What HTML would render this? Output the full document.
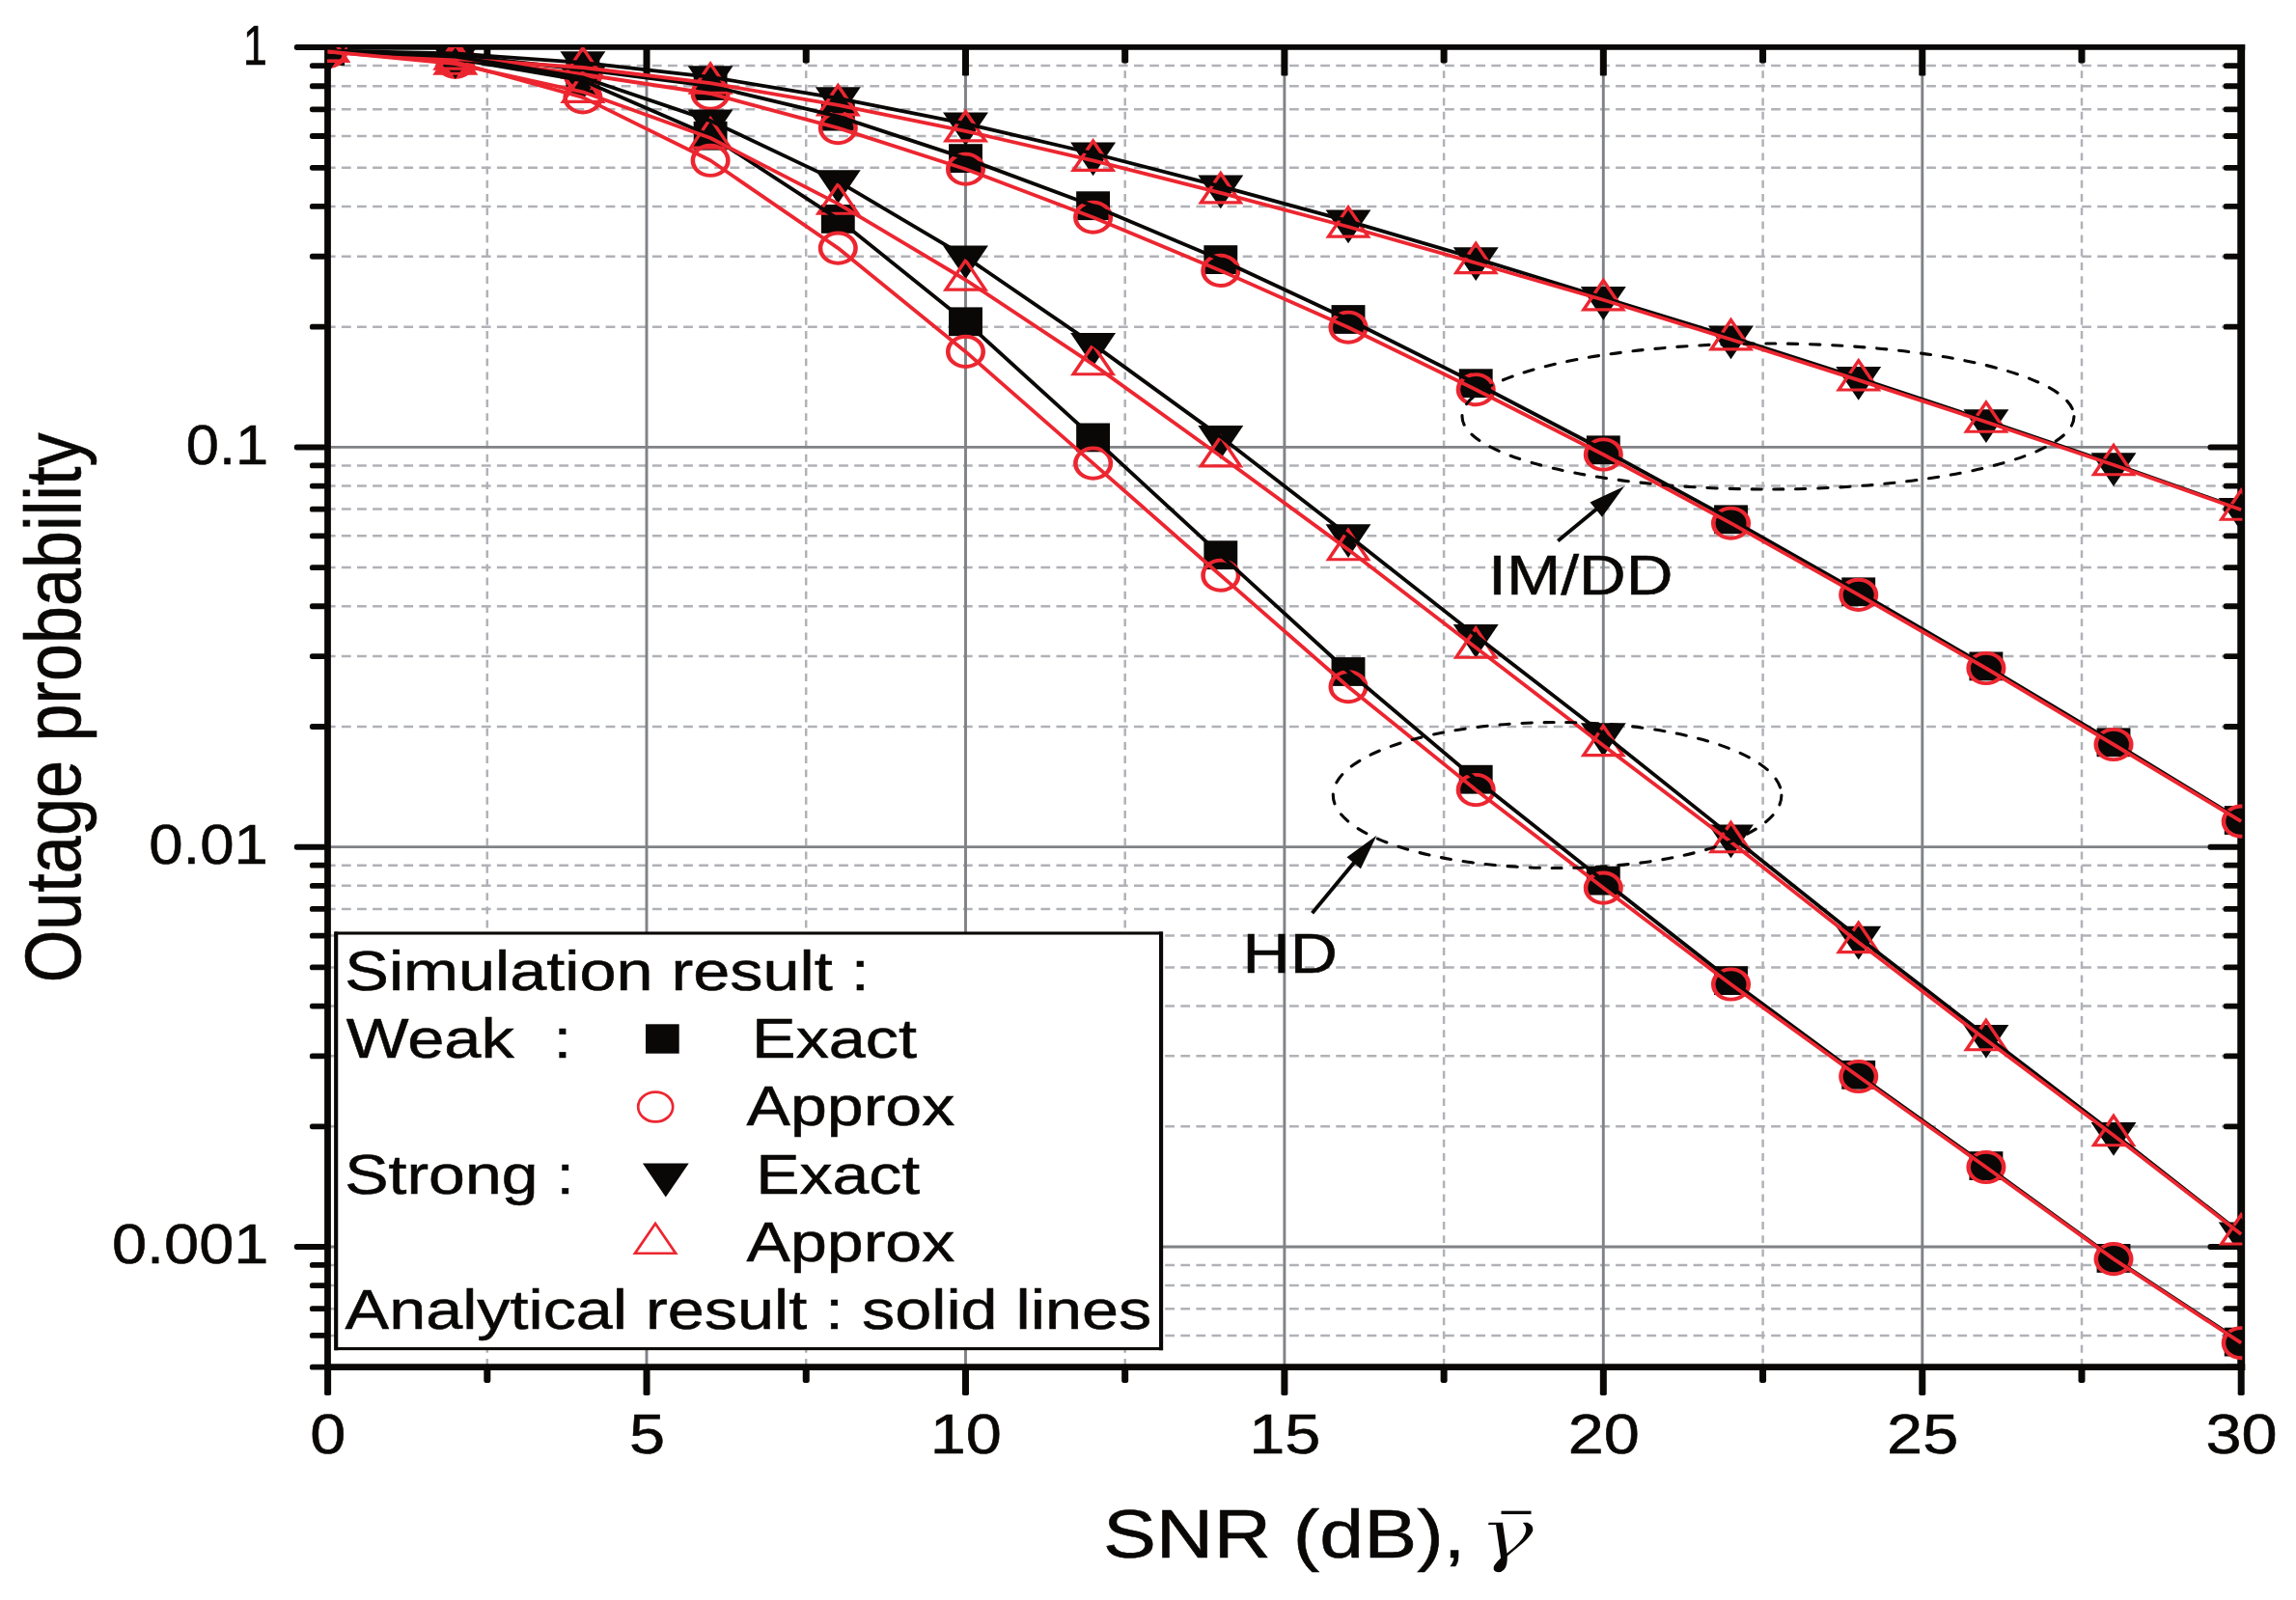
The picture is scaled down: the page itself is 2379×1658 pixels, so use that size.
<!DOCTYPE html>
<html><head><meta charset="utf-8"><title>Outage probability</title>
<style>html,body{margin:0;padding:0;background:#fff}svg{display:block}</style></head>
<body>
<svg width="2379" height="1658" viewBox="0 0 2379 1658" style="display:block">
<rect width="2379" height="1658" fill="#fff"/>
<defs>
<clipPath id="pc"><rect x="339.0" y="49.05" width="1984.4" height="1368.6"/></clipPath>
<clipPath id="gc"><rect x="339.6" y="49.1" width="1982.6" height="1367.6"/></clipPath>
<g id="sq" transform="scale(1.17,1)"><rect x="-14.9" y="-14.9" width="29.8" height="29.8" fill="#0a0806"/></g>
<g id="dn" transform="scale(1.17,1)"><polygon points="-20.05,-11.58 20.05,-11.58 0,23.15" fill="#0a0806"/></g>
<g id="ci" transform="scale(1.17,1)"><circle r="15.6" fill="none" stroke="#ec2630" stroke-width="3.9"/></g>
<g id="up" transform="scale(1.17,1)"><polygon points="0,-20.17 17.46,10.08 -17.46,10.08" fill="none" stroke="#ec2630" stroke-width="3.1" stroke-linejoin="miter"/></g>
</defs>
<g clip-path="url(#gc)" fill="none"><path d="M337.8,338.7H2322.2M337.8,265.7H2322.2M337.8,214.0H2322.2M337.8,173.8H2322.2M337.8,141.0H2322.2M337.8,113.3H2322.2M337.8,89.2H2322.2M337.8,68.1H2322.2M337.8,753.0H2322.2M337.8,680.0H2322.2M337.8,628.3H2322.2M337.8,588.1H2322.2M337.8,555.3H2322.2M337.8,527.6H2322.2M337.8,503.5H2322.2M337.8,482.4H2322.2M337.8,1167.3H2322.2M337.8,1094.3H2322.2M337.8,1042.6H2322.2M337.8,1002.4H2322.2M337.8,969.6H2322.2M337.8,941.9H2322.2M337.8,917.8H2322.2M337.8,896.7H2322.2M337.8,1383.9H2322.2M337.8,1356.2H2322.2M337.8,1332.1H2322.2M337.8,1311.0H2322.2" stroke="#b1b2b7" stroke-width="2.5" stroke-dasharray="9.8 6.3"/><path d="M504.8,44.8V1416.7M835.2,44.8V1416.7M1165.7,44.8V1416.7M1496.1,44.8V1416.7M1826.6,44.8V1416.7M2157.0,44.8V1416.7" stroke="#b1b2b7" stroke-width="2.5" stroke-dasharray="7.9 6.3"/><path d="M339.6,463.4H2322.2M339.6,877.7H2322.2M339.6,1292.0H2322.2" stroke="#808286" stroke-width="2.8"/><path d="M670.0,49.1V1416.7M1000.5,49.1V1416.7M1330.9,49.1V1416.7M1661.3,49.1V1416.7M1991.8,49.1V1416.7" stroke="#808286" stroke-width="2.9"/></g>
<g fill="#0a0806" stroke="none"><rect x="304.8" y="45.90" width="36.8" height="6.0" rx="2.7" ry="2.7"/><rect x="304.8" y="460.40" width="36.8" height="6.0" rx="2.7" ry="2.7"/><rect x="2287.5" y="460.40" width="36.7" height="6.0" rx="2.7" ry="2.7"/><rect x="304.8" y="874.70" width="36.8" height="6.0" rx="2.7" ry="2.7"/><rect x="2287.5" y="874.70" width="36.7" height="6.0" rx="2.7" ry="2.7"/><rect x="304.8" y="1289.00" width="36.8" height="6.0" rx="2.7" ry="2.7"/><rect x="2287.5" y="1289.00" width="36.7" height="6.0" rx="2.7" ry="2.7"/><rect x="320.9" y="335.78" width="20.7" height="5.8" rx="2.6" ry="2.6"/><rect x="2303.6" y="335.78" width="20.6" height="5.8" rx="2.6" ry="2.6"/><rect x="320.9" y="262.83" width="20.7" height="5.8" rx="2.6" ry="2.6"/><rect x="2303.6" y="262.83" width="20.6" height="5.8" rx="2.6" ry="2.6"/><rect x="320.9" y="211.07" width="20.7" height="5.8" rx="2.6" ry="2.6"/><rect x="2303.6" y="211.07" width="20.6" height="5.8" rx="2.6" ry="2.6"/><rect x="320.9" y="170.92" width="20.7" height="5.8" rx="2.6" ry="2.6"/><rect x="2303.6" y="170.92" width="20.6" height="5.8" rx="2.6" ry="2.6"/><rect x="320.9" y="138.11" width="20.7" height="5.8" rx="2.6" ry="2.6"/><rect x="2303.6" y="138.11" width="20.6" height="5.8" rx="2.6" ry="2.6"/><rect x="320.9" y="110.38" width="20.7" height="5.8" rx="2.6" ry="2.6"/><rect x="2303.6" y="110.38" width="20.6" height="5.8" rx="2.6" ry="2.6"/><rect x="320.9" y="86.35" width="20.7" height="5.8" rx="2.6" ry="2.6"/><rect x="2303.6" y="86.35" width="20.6" height="5.8" rx="2.6" ry="2.6"/><rect x="320.9" y="65.16" width="20.7" height="5.8" rx="2.6" ry="2.6"/><rect x="2303.6" y="65.16" width="20.6" height="5.8" rx="2.6" ry="2.6"/><rect x="320.9" y="750.08" width="20.7" height="5.8" rx="2.6" ry="2.6"/><rect x="2303.6" y="750.08" width="20.6" height="5.8" rx="2.6" ry="2.6"/><rect x="320.9" y="677.13" width="20.7" height="5.8" rx="2.6" ry="2.6"/><rect x="2303.6" y="677.13" width="20.6" height="5.8" rx="2.6" ry="2.6"/><rect x="320.9" y="625.37" width="20.7" height="5.8" rx="2.6" ry="2.6"/><rect x="2303.6" y="625.37" width="20.6" height="5.8" rx="2.6" ry="2.6"/><rect x="320.9" y="585.22" width="20.7" height="5.8" rx="2.6" ry="2.6"/><rect x="2303.6" y="585.22" width="20.6" height="5.8" rx="2.6" ry="2.6"/><rect x="320.9" y="552.41" width="20.7" height="5.8" rx="2.6" ry="2.6"/><rect x="2303.6" y="552.41" width="20.6" height="5.8" rx="2.6" ry="2.6"/><rect x="320.9" y="524.68" width="20.7" height="5.8" rx="2.6" ry="2.6"/><rect x="2303.6" y="524.68" width="20.6" height="5.8" rx="2.6" ry="2.6"/><rect x="320.9" y="500.65" width="20.7" height="5.8" rx="2.6" ry="2.6"/><rect x="2303.6" y="500.65" width="20.6" height="5.8" rx="2.6" ry="2.6"/><rect x="320.9" y="479.46" width="20.7" height="5.8" rx="2.6" ry="2.6"/><rect x="2303.6" y="479.46" width="20.6" height="5.8" rx="2.6" ry="2.6"/><rect x="320.9" y="1164.38" width="20.7" height="5.8" rx="2.6" ry="2.6"/><rect x="2303.6" y="1164.38" width="20.6" height="5.8" rx="2.6" ry="2.6"/><rect x="320.9" y="1091.43" width="20.7" height="5.8" rx="2.6" ry="2.6"/><rect x="2303.6" y="1091.43" width="20.6" height="5.8" rx="2.6" ry="2.6"/><rect x="320.9" y="1039.67" width="20.7" height="5.8" rx="2.6" ry="2.6"/><rect x="2303.6" y="1039.67" width="20.6" height="5.8" rx="2.6" ry="2.6"/><rect x="320.9" y="999.52" width="20.7" height="5.8" rx="2.6" ry="2.6"/><rect x="2303.6" y="999.52" width="20.6" height="5.8" rx="2.6" ry="2.6"/><rect x="320.9" y="966.71" width="20.7" height="5.8" rx="2.6" ry="2.6"/><rect x="2303.6" y="966.71" width="20.6" height="5.8" rx="2.6" ry="2.6"/><rect x="320.9" y="938.98" width="20.7" height="5.8" rx="2.6" ry="2.6"/><rect x="2303.6" y="938.98" width="20.6" height="5.8" rx="2.6" ry="2.6"/><rect x="320.9" y="914.95" width="20.7" height="5.8" rx="2.6" ry="2.6"/><rect x="2303.6" y="914.95" width="20.6" height="5.8" rx="2.6" ry="2.6"/><rect x="320.9" y="893.76" width="20.7" height="5.8" rx="2.6" ry="2.6"/><rect x="2303.6" y="893.76" width="20.6" height="5.8" rx="2.6" ry="2.6"/><rect x="320.9" y="1381.01" width="20.7" height="5.8" rx="2.6" ry="2.6"/><rect x="2303.6" y="1381.01" width="20.6" height="5.8" rx="2.6" ry="2.6"/><rect x="320.9" y="1353.28" width="20.7" height="5.8" rx="2.6" ry="2.6"/><rect x="2303.6" y="1353.28" width="20.6" height="5.8" rx="2.6" ry="2.6"/><rect x="320.9" y="1329.25" width="20.7" height="5.8" rx="2.6" ry="2.6"/><rect x="2303.6" y="1329.25" width="20.6" height="5.8" rx="2.6" ry="2.6"/><rect x="320.9" y="1308.06" width="20.7" height="5.8" rx="2.6" ry="2.6"/><rect x="2303.6" y="1308.06" width="20.6" height="5.8" rx="2.6" ry="2.6"/><rect x="320.9" y="1413.80" width="20.7" height="5.8" rx="2.6" ry="2.6"/><rect x="2303.6" y="1413.80" width="20.6" height="5.8" rx="2.6" ry="2.6"/><rect x="336.10" y="1414.7" width="7.0" height="31.4" rx="1.8" ry="1.8"/><rect x="666.53" y="1414.7" width="7.0" height="31.4" rx="1.8" ry="1.8"/><rect x="666.53" y="47.1" width="7.0" height="31.3" rx="0.9" ry="0.9"/><rect x="996.97" y="1414.7" width="7.0" height="31.4" rx="1.8" ry="1.8"/><rect x="996.97" y="47.1" width="7.0" height="31.3" rx="0.9" ry="0.9"/><rect x="1327.40" y="1414.7" width="7.0" height="31.4" rx="1.8" ry="1.8"/><rect x="1327.40" y="47.1" width="7.0" height="31.3" rx="0.9" ry="0.9"/><rect x="1657.83" y="1414.7" width="7.0" height="31.4" rx="1.8" ry="1.8"/><rect x="1657.83" y="47.1" width="7.0" height="31.3" rx="0.9" ry="0.9"/><rect x="1988.27" y="1414.7" width="7.0" height="31.4" rx="1.8" ry="1.8"/><rect x="1988.27" y="47.1" width="7.0" height="31.3" rx="0.9" ry="0.9"/><rect x="2318.70" y="1414.7" width="7.0" height="31.4" rx="1.8" ry="1.8"/><rect x="501.32" y="1414.7" width="7.0" height="18.2" rx="1.8" ry="1.8"/><rect x="501.32" y="47.1" width="7.0" height="18.5" rx="1.8" ry="1.8"/><rect x="831.75" y="1414.7" width="7.0" height="18.2" rx="1.8" ry="1.8"/><rect x="831.75" y="47.1" width="7.0" height="18.5" rx="1.8" ry="1.8"/><rect x="1162.18" y="1414.7" width="7.0" height="18.2" rx="1.8" ry="1.8"/><rect x="1162.18" y="47.1" width="7.0" height="18.5" rx="1.8" ry="1.8"/><rect x="1492.62" y="1414.7" width="7.0" height="18.2" rx="1.8" ry="1.8"/><rect x="1492.62" y="47.1" width="7.0" height="18.5" rx="1.8" ry="1.8"/><rect x="1823.05" y="1414.7" width="7.0" height="18.2" rx="1.8" ry="1.8"/><rect x="1823.05" y="47.1" width="7.0" height="18.5" rx="1.8" ry="1.8"/><rect x="2153.48" y="1414.7" width="7.0" height="18.2" rx="1.8" ry="1.8"/><rect x="2153.48" y="47.1" width="7.0" height="18.5" rx="1.8" ry="1.8"/></g><g stroke="#0a0806" fill="none" stroke-linecap="butt"><path d="M336.4,48.9H2326.2" stroke-width="5.9"/><path d="M336.4,1416.6H2326.2" stroke-width="6.9"/><path d="M339.5,46.0V1420.1" stroke-width="6.8"/><path d="M2322.2,46.0V1420.1" stroke-width="7.9"/></g>
<g clip-path="url(#pc)">
<use href="#sq" x="339.6" y="52.7"/><use href="#sq" x="471.8" y="57.0"/><use href="#sq" x="603.9" y="72.0"/><use href="#sq" x="736.1" y="89.0"/><use href="#sq" x="868.3" y="120.6"/><use href="#sq" x="1000.5" y="164.1"/><use href="#sq" x="1132.6" y="213.2"/><use href="#sq" x="1264.8" y="269.1"/><use href="#sq" x="1397.0" y="331.0"/><use href="#sq" x="1529.2" y="397.2"/><use href="#sq" x="1661.3" y="466.3"/><use href="#sq" x="1793.5" y="538.3"/><use href="#sq" x="1925.7" y="613.3"/><use href="#sq" x="2057.9" y="690.4"/><use href="#sq" x="2190.0" y="769.3"/><use href="#sq" x="2322.2" y="850.0"/>
<use href="#sq" x="339.6" y="52.9"/><use href="#sq" x="471.8" y="61.0"/><use href="#sq" x="603.9" y="83.5"/><use href="#sq" x="736.1" y="140.7"/><use href="#sq" x="868.3" y="226.9"/><use href="#sq" x="1000.5" y="333.3"/><use href="#sq" x="1132.6" y="453.4"/><use href="#sq" x="1264.8" y="575.2"/><use href="#sq" x="1397.0" y="696.0"/><use href="#sq" x="1529.2" y="807.7"/><use href="#sq" x="1661.3" y="912.6"/><use href="#sq" x="1793.5" y="1016.1"/><use href="#sq" x="1925.7" y="1113.8"/><use href="#sq" x="2057.9" y="1208.1"/><use href="#sq" x="2190.0" y="1303.9"/><use href="#sq" x="2322.2" y="1390.6"/>
<use href="#ci" x="339.6" y="53.2"/><use href="#ci" x="471.8" y="60.0"/><use href="#ci" x="603.9" y="77.0"/><use href="#ci" x="736.1" y="97.0"/><use href="#ci" x="868.3" y="132.6"/><use href="#ci" x="1000.5" y="175.2"/><use href="#ci" x="1132.6" y="225.2"/><use href="#ci" x="1264.8" y="280.4"/><use href="#ci" x="1397.0" y="339.2"/><use href="#ci" x="1529.2" y="403.7"/><use href="#ci" x="1661.3" y="471.0"/><use href="#ci" x="1793.5" y="542.2"/><use href="#ci" x="1925.7" y="616.4"/><use href="#ci" x="2057.9" y="692.5"/><use href="#ci" x="2190.0" y="771.5"/><use href="#ci" x="2322.2" y="851.1"/>
<use href="#ci" x="339.6" y="53.5"/><use href="#ci" x="471.8" y="64.4"/><use href="#ci" x="603.9" y="100.9"/><use href="#ci" x="736.1" y="166.3"/><use href="#ci" x="868.3" y="257.1"/><use href="#ci" x="1000.5" y="364.4"/><use href="#ci" x="1132.6" y="480.1"/><use href="#ci" x="1264.8" y="596.2"/><use href="#ci" x="1397.0" y="711.7"/><use href="#ci" x="1529.2" y="818.5"/><use href="#ci" x="1661.3" y="920.1"/><use href="#ci" x="1793.5" y="1020.0"/><use href="#ci" x="1925.7" y="1115.5"/><use href="#ci" x="2057.9" y="1209.5"/><use href="#ci" x="2190.0" y="1304.6"/><use href="#ci" x="2322.2" y="1391.7"/>
<use href="#dn" x="339.6" y="52.6"/><use href="#dn" x="471.8" y="55.5"/><use href="#dn" x="603.9" y="64.8"/><use href="#dn" x="736.1" y="79.8"/><use href="#dn" x="868.3" y="101.8"/><use href="#dn" x="1000.5" y="128.1"/><use href="#dn" x="1132.6" y="159.0"/><use href="#dn" x="1264.8" y="193.1"/><use href="#dn" x="1397.0" y="229.1"/><use href="#dn" x="1529.2" y="267.9"/><use href="#dn" x="1661.3" y="308.5"/><use href="#dn" x="1793.5" y="349.2"/><use href="#dn" x="1925.7" y="391.7"/><use href="#dn" x="2057.9" y="435.8"/><use href="#dn" x="2190.0" y="480.9"/><use href="#dn" x="2322.2" y="527.5"/>
<use href="#dn" x="339.6" y="52.8"/><use href="#dn" x="471.8" y="58.6"/><use href="#dn" x="603.9" y="80.3"/><use href="#dn" x="736.1" y="125.1"/><use href="#dn" x="868.3" y="187.9"/><use href="#dn" x="1000.5" y="266.1"/><use href="#dn" x="1132.6" y="356.6"/><use href="#dn" x="1264.8" y="452.6"/><use href="#dn" x="1397.0" y="554.8"/><use href="#dn" x="1529.2" y="658.7"/><use href="#dn" x="1661.3" y="760.8"/><use href="#dn" x="1793.5" y="866.2"/><use href="#dn" x="1925.7" y="971.4"/><use href="#dn" x="2057.9" y="1073.5"/><use href="#dn" x="2190.0" y="1174.5"/><use href="#dn" x="2322.2" y="1278.1"/>
<use href="#up" x="339.6" y="53.0"/><use href="#up" x="471.8" y="61.0"/><use href="#up" x="603.9" y="70.0"/><use href="#up" x="736.1" y="86.2"/><use href="#up" x="868.3" y="108.8"/><use href="#up" x="1000.5" y="135.8"/><use href="#up" x="1132.6" y="166.3"/><use href="#up" x="1264.8" y="199.8"/><use href="#up" x="1397.0" y="235.0"/><use href="#up" x="1529.2" y="272.5"/><use href="#up" x="1661.3" y="310.8"/><use href="#up" x="1793.5" y="351.8"/><use href="#up" x="1925.7" y="393.9"/><use href="#up" x="2057.9" y="437.2"/><use href="#up" x="2190.0" y="481.7"/><use href="#up" x="2322.2" y="528.2"/>
<use href="#up" x="339.6" y="53.3"/><use href="#up" x="471.8" y="66.2"/><use href="#up" x="603.9" y="95.3"/><use href="#up" x="736.1" y="143.0"/><use href="#up" x="868.3" y="211.1"/><use href="#up" x="1000.5" y="290.0"/><use href="#up" x="1132.6" y="377.6"/><use href="#up" x="1264.8" y="472.8"/><use href="#up" x="1397.0" y="569.6"/><use href="#up" x="1529.2" y="671.1"/><use href="#up" x="1661.3" y="772.5"/><use href="#up" x="1793.5" y="872.6"/><use href="#up" x="1925.7" y="976.5"/><use href="#up" x="2057.9" y="1077.6"/><use href="#up" x="2190.0" y="1176.6"/><use href="#up" x="2322.2" y="1278.9"/>
<polyline points="339.6,52.7 471.8,57.0 603.9,72.0 736.1,89.0 868.3,120.6 1000.5,164.1 1132.6,213.2 1264.8,269.1 1397.0,331.0 1529.2,397.2 1661.3,466.3 1793.5,538.3 1925.7,613.3 2057.9,690.4 2190.0,769.3 2322.2,850.0" fill="none" stroke="#0a0806" stroke-width="3.8" stroke-linejoin="round"/>
<polyline points="339.6,53.2 471.8,60.0 603.9,77.0 736.1,97.0 868.3,132.6 1000.5,175.2 1132.6,225.2 1264.8,280.4 1397.0,339.2 1529.2,403.7 1661.3,471.0 1793.5,542.2 1925.7,616.4 2057.9,692.5 2190.0,771.5 2322.2,851.1" fill="none" stroke="#ec2630" stroke-width="3.8" stroke-linejoin="round"/>
<polyline points="339.6,52.9 471.8,61.0 603.9,83.5 736.1,140.7 868.3,226.9 1000.5,333.3 1132.6,453.4 1264.8,575.2 1397.0,696.0 1529.2,807.7 1661.3,912.6 1793.5,1016.1 1925.7,1113.8 2057.9,1208.1 2190.0,1303.9 2322.2,1390.6" fill="none" stroke="#0a0806" stroke-width="3.8" stroke-linejoin="round"/>
<polyline points="339.6,53.5 471.8,64.4 603.9,100.9 736.1,166.3 868.3,257.1 1000.5,364.4 1132.6,480.1 1264.8,596.2 1397.0,711.7 1529.2,818.5 1661.3,920.1 1793.5,1020.0 1925.7,1115.5 2057.9,1209.5 2190.0,1304.6 2322.2,1391.7" fill="none" stroke="#ec2630" stroke-width="3.8" stroke-linejoin="round"/>
<polyline points="339.6,52.6 471.8,55.5 603.9,64.8 736.1,79.8 868.3,101.8 1000.5,128.1 1132.6,159.0 1264.8,193.1 1397.0,229.1 1529.2,267.9 1661.3,308.5 1793.5,349.2 1925.7,391.7 2057.9,435.8 2190.0,480.9 2322.2,527.5" fill="none" stroke="#0a0806" stroke-width="3.8" stroke-linejoin="round"/>
<polyline points="339.6,53.0 471.8,61.0 603.9,70.0 736.1,86.2 868.3,108.8 1000.5,135.8 1132.6,166.3 1264.8,199.8 1397.0,235.0 1529.2,272.5 1661.3,310.8 1793.5,351.8 1925.7,393.9 2057.9,437.2 2190.0,481.7 2322.2,528.2" fill="none" stroke="#ec2630" stroke-width="3.8" stroke-linejoin="round"/>
<polyline points="339.6,52.8 471.8,58.6 603.9,80.3 736.1,125.1 868.3,187.9 1000.5,266.1 1132.6,356.6 1264.8,452.6 1397.0,554.8 1529.2,658.7 1661.3,760.8 1793.5,866.2 1925.7,971.4 2057.9,1073.5 2190.0,1174.5 2322.2,1278.1" fill="none" stroke="#0a0806" stroke-width="3.8" stroke-linejoin="round"/>
<polyline points="339.6,53.3 471.8,66.2 603.9,95.3 736.1,143.0 868.3,211.1 1000.5,290.0 1132.6,377.6 1264.8,472.8 1397.0,569.6 1529.2,671.1 1661.3,772.5 1793.5,872.6 1925.7,976.5 2057.9,1077.6 2190.0,1176.6 2322.2,1278.9" fill="none" stroke="#ec2630" stroke-width="3.8" stroke-linejoin="round"/>
</g>
<g fill="none" stroke="#0a0806" stroke-width="3.1" stroke-dasharray="10.2 12.8" stroke-linecap="round">
<ellipse cx="1832" cy="431.5" rx="317" ry="75.5"/>
<ellipse cx="1613.6" cy="824" rx="232.3" ry="75.5"/>
</g>
<path d="M1614.2,560.6L1656.1,526.1" stroke="#0a0806" stroke-width="3.9" fill="none"/><polygon points="1683.1,503.9 1660.0,535.7 1647.5,520.4" fill="#0a0806"/>
<path d="M1359.6,946.2L1404.6,892.0" stroke="#0a0806" stroke-width="3.9" fill="none"/><polygon points="1426.5,865.7 1409.9,900.3 1395.5,888.3" fill="#0a0806"/>
<rect x="348.2" y="967" width="854.9" height="430.6" fill="#fff" stroke="#0a0806" stroke-width="3.1"/>
<path d="M348.2,965.45V1399.15M1203.1,965.45V1399.15" fill="none" stroke="#0a0806" stroke-width="4.1"/>
<text transform="translate(357.28,1026.10) scale(1.1832,1)" font-size="57.8" fill="#0a0806" stroke="#0a0806" stroke-width="0.55" style="font-family:'Liberation Sans',sans-serif" >Simulation result :</text>
<text transform="translate(358.71,1096.20) scale(1.1871,1)" font-size="57.8" fill="#0a0806" stroke="#0a0806" stroke-width="0.55" style="font-family:'Liberation Sans',sans-serif" >Weak</text>
<text transform="translate(573.86,1096.20) scale(1.1419,1)" font-size="57.8" fill="#0a0806" stroke="#0a0806" stroke-width="0.55" style="font-family:'Liberation Sans',sans-serif" >:</text>
<text transform="translate(779.03,1096.20) scale(1.1831,1)" font-size="57.8" fill="#0a0806" stroke="#0a0806" stroke-width="0.55" style="font-family:'Liberation Sans',sans-serif" >Exact</text>
<text transform="translate(773.50,1166.20) scale(1.1781,1)" font-size="57.8" fill="#0a0806" stroke="#0a0806" stroke-width="0.55" style="font-family:'Liberation Sans',sans-serif" >Approx</text>
<text transform="translate(357.30,1236.60) scale(1.1756,1)" font-size="57.8" fill="#0a0806" stroke="#0a0806" stroke-width="0.55" style="font-family:'Liberation Sans',sans-serif" >Strong</text>
<text transform="translate(576.65,1236.60) scale(1.1246,1)" font-size="57.8" fill="#0a0806" stroke="#0a0806" stroke-width="0.55" style="font-family:'Liberation Sans',sans-serif" >:</text>
<text transform="translate(783.26,1236.60) scale(1.1759,1)" font-size="57.8" fill="#0a0806" stroke="#0a0806" stroke-width="0.55" style="font-family:'Liberation Sans',sans-serif" >Exact</text>
<text transform="translate(773.50,1306.70) scale(1.1781,1)" font-size="57.8" fill="#0a0806" stroke="#0a0806" stroke-width="0.55" style="font-family:'Liberation Sans',sans-serif" >Approx</text>
<text transform="translate(357.60,1377.30) scale(1.1824,1)" font-size="57.8" fill="#0a0806" stroke="#0a0806" stroke-width="0.55" style="font-family:'Liberation Sans',sans-serif" >Analytical result : solid lines</text>
<rect x="669" y="1061.3" width="34.7" height="30.4" fill="#0a0806"/>
<ellipse cx="679.2" cy="1147" rx="18" ry="15.4" fill="none" stroke="#ec2630" stroke-width="2.7"/>
<polygon points="665.9,1205.6 713.7,1205.6 689.8,1240.5" fill="#0a0806"/>
<polygon points="679.05,1267.9 700.1,1298.75 658,1298.75" fill="none" stroke="#ec2630" stroke-width="2.7"/>
<text transform="translate(1542.12,615.60) scale(1.1686,1)" font-size="57.8" fill="#0a0806" stroke="#0a0806" stroke-width="0.55" style="font-family:'Liberation Sans',sans-serif" >IM/DD</text>
<text transform="translate(1287.55,1007.50) scale(1.1783,1)" font-size="57.8" fill="#0a0806" stroke="#0a0806" stroke-width="0.55" style="font-family:'Liberation Sans',sans-serif" >HD</text>
<text transform="translate(321.36,1505.8) scale(1.1574,1)" font-size="57.6" fill="#0a0806" stroke="#0a0806" stroke-width="0.55" style="font-family:'Liberation Sans',sans-serif">0</text>
<text transform="translate(651.89,1505.8) scale(1.1574,1)" font-size="57.6" fill="#0a0806" stroke="#0a0806" stroke-width="0.55" style="font-family:'Liberation Sans',sans-serif">5</text>
<text transform="translate(963.79,1505.8) scale(1.1574,1)" font-size="57.6" fill="#0a0806" stroke="#0a0806" stroke-width="0.55" style="font-family:'Liberation Sans',sans-serif">10</text>
<text transform="translate(1294.22,1505.8) scale(1.1574,1)" font-size="57.6" fill="#0a0806" stroke="#0a0806" stroke-width="0.55" style="font-family:'Liberation Sans',sans-serif">15</text>
<text transform="translate(1624.66,1505.8) scale(1.1574,1)" font-size="57.6" fill="#0a0806" stroke="#0a0806" stroke-width="0.55" style="font-family:'Liberation Sans',sans-serif">20</text>
<text transform="translate(1955.09,1505.8) scale(1.1574,1)" font-size="57.6" fill="#0a0806" stroke="#0a0806" stroke-width="0.55" style="font-family:'Liberation Sans',sans-serif">25</text>
<text transform="translate(2285.52,1505.8) scale(1.1574,1)" font-size="57.6" fill="#0a0806" stroke="#0a0806" stroke-width="0.55" style="font-family:'Liberation Sans',sans-serif">30</text>
<text transform="translate(251.87,66.50) scale(0.7873,1)" font-size="57.6" fill="#0a0806" stroke="#0a0806" stroke-width="0.55" style="font-family:'Liberation Sans',sans-serif" >1</text>
<text transform="translate(192.74,480.80) scale(1.0657,1)" font-size="57.6" fill="#0a0806" stroke="#0a0806" stroke-width="0.55" style="font-family:'Liberation Sans',sans-serif" >0.1</text>
<text transform="translate(154.26,895.10) scale(1.1033,1)" font-size="57.6" fill="#0a0806" stroke="#0a0806" stroke-width="0.55" style="font-family:'Liberation Sans',sans-serif" >0.01</text>
<text transform="translate(115.90,1309.40) scale(1.1274,1)" font-size="57.6" fill="#0a0806" stroke="#0a0806" stroke-width="0.55" style="font-family:'Liberation Sans',sans-serif" >0.001</text>
<text transform="translate(1142.88,1613.50) scale(1.1781,1)" font-size="70" fill="#0a0806" stroke="#0a0806" stroke-width="0.55" style="font-family:'Liberation Sans',sans-serif" >SNR (dB),</text>
<text transform="translate(1531.13,1615.3) scale(1.34,1)" font-size="72.9" fill="#0a0806" stroke="#fff" stroke-width="1.5" style="font-family:'DejaVu Serif','Liberation Serif',serif;font-style:italic">γ</text>
<path d="M1555.5,1567.4H1586.5" stroke="#0a0806" stroke-width="3.4"/>
<text transform="translate(82.9,1018.31) scale(1.165,1) rotate(-90)" font-size="70.22" fill="#0a0806" stroke="#0a0806" stroke-width="0.55" style="font-family:'Liberation Sans',sans-serif">Outage probability</text>
</svg>
</body></html>
